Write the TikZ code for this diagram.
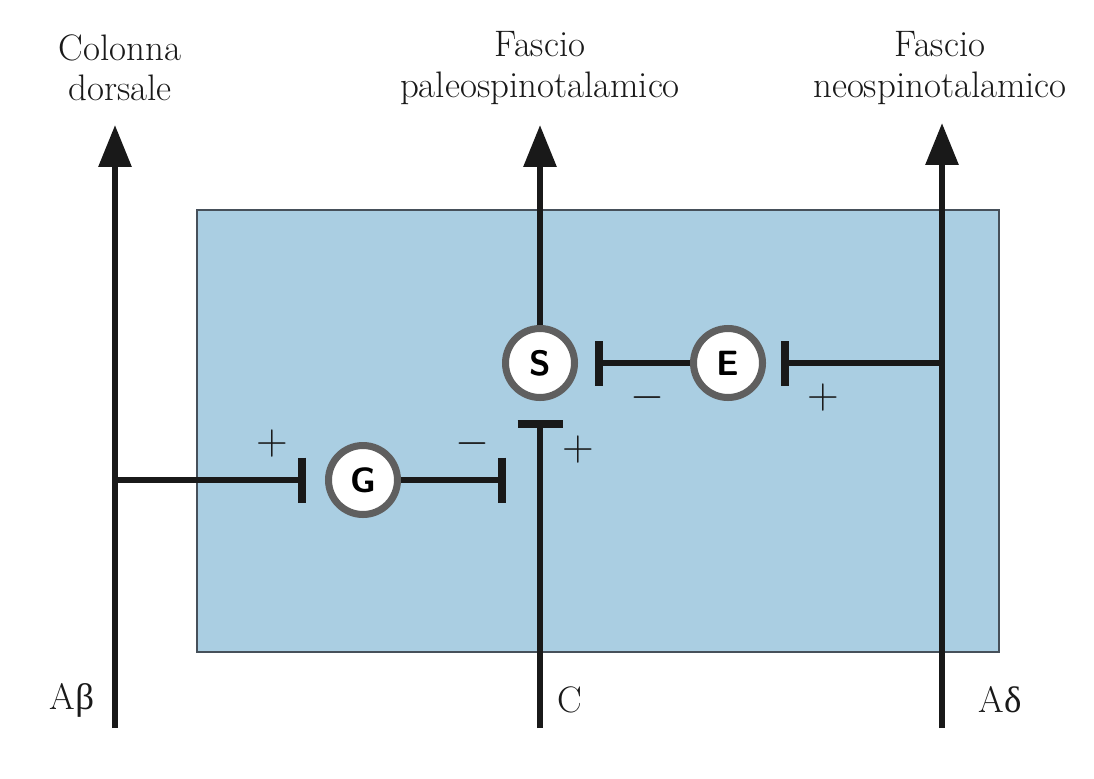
\documentclass[tikz,border=0pt]{standalone}
\usepackage{fontspec}
\newfontfamily\grk{Liberation Serif}
\usetikzlibrary{arrows.meta}
\definecolor{boxblue}{RGB}{170,206,226}
\definecolor{boxedge}{RGB}{70,80,90}
\definecolor{ink}{RGB}{25,25,25}
\definecolor{ring}{RGB}{95,95,95}
\tikzset{
  fiber/.style={draw=ink, line width=3.5pt},
  upfiber/.style={fiber, -{Triangle[length=0.84cm, width=0.64cm]}},
  inhib/.style={draw=ink, line width=2.9pt, -{Bar[width=0.9cm, line width=4.5pt]}},
  neuron/.style={circle, draw=ring, line width=4pt, fill=white, minimum size=1.38cm, inner sep=0pt, font=\fontsize{20}{20}\selectfont\bfseries\sffamily},
  lab/.style={align=center, font=\fontsize{21}{23}\selectfont, text=ink},
  sign/.style={font=\fontsize{25}{25}\selectfont, text=ink, inner sep=0pt}
}
\begin{document}
\begin{tikzpicture}[x=0.02cm, y=-0.02cm]
\useasboundingbox (0,0) rectangle (1094,778);
\fill[white] (0,0) rectangle (1094,778);
% shaded field
\draw[fill=boxblue, draw=boxedge, line width=0.8pt] (197,210) rectangle (999,652);
% coordinates
\coordinate (abBot) at (115,728);
\coordinate (abTop) at (115,125);
\coordinate (cBot) at (540,728);
\coordinate (cBar) at (540,420);
\coordinate (cTop) at (540,125);
\coordinate (adBot) at (942,728);
\coordinate (adTop) at (942,123);
\coordinate (abJ) at (115,480);
\coordinate (gBarL) at (306,480);
\coordinate (gBarR) at (506,480);
\coordinate (adJ) at (942,363);
\coordinate (eBarR) at (781,363);
\coordinate (eBarL) at (595,363);
% neurons
\node[neuron] (S) at (540,363) {S};
\node[neuron] (E) at (728,363) {E};
\node[neuron] (G) at (363,480) {G};
% main fibers
\draw[upfiber] (abBot) -- (abTop);
\draw[upfiber] (adBot) -- (adTop);
\draw[inhib] (cBot) -- (cBar);
\draw[upfiber] (S.north) -- (cTop);
% interneuron connections
\draw[inhib] (abJ) -- (gBarL);
\draw[inhib] (G.east) -- (gBarR);
\draw[inhib] (adJ) -- (eBarR);
\draw[inhib] (E.west) -- (eBarL);
% signs
\node[sign] (p1) at (272,444) {+};
\node[sign] (m1) at (472,444) {$-$};
\node[sign] (m2) at (647,398) {$-$};
\node[sign] (p2) at (823,398) {+};
\node[sign] (p3) at (578,450) {+};
% labels
\node[lab] (tcd) at (120,68) {Colonna\\dorsale};
\node[lab] (tpa) at (540,68) {Fascio\\paleospinotalamico};
\node[lab] (tne) at (940,68) {Fascio\\neospinotalamico};
\node[lab] (lab) at (72,700) {A{\grk β}};
\node[lab] (lc) at (570,700) {C};
\node[lab] (lad) at (1000,700) {A{\grk δ}};
\end{tikzpicture}
\end{document}
